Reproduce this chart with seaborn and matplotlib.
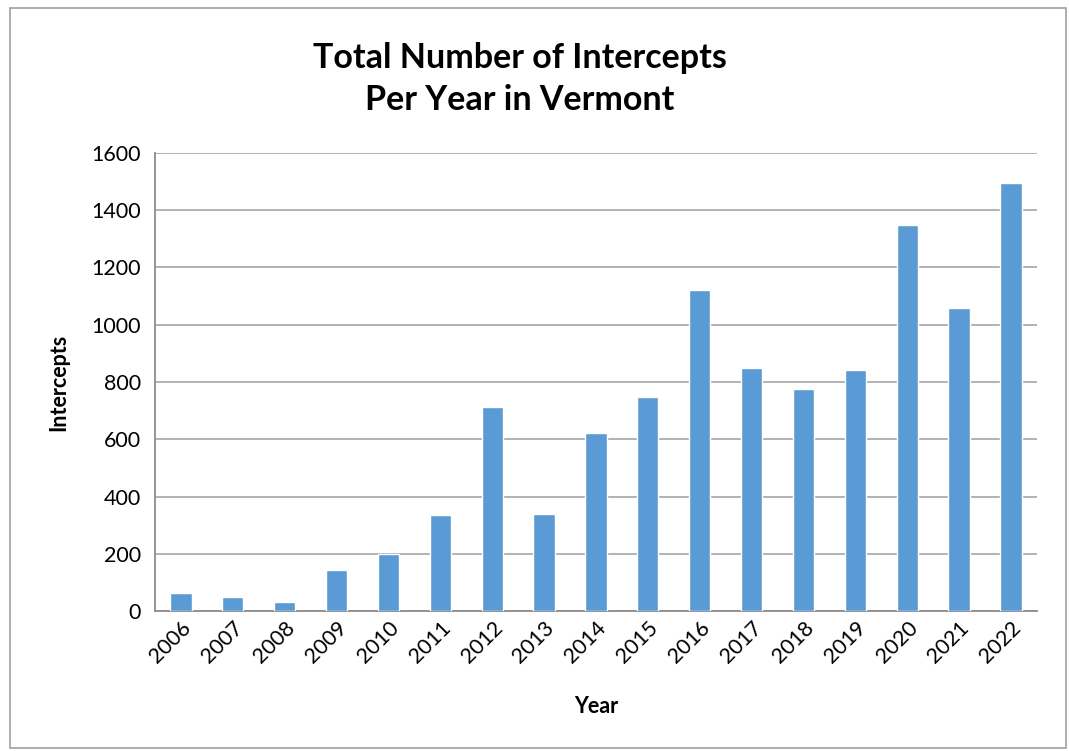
import matplotlib
matplotlib.use("Agg")
import matplotlib.pyplot as plt
import seaborn as sns
import pandas as pd
from matplotlib.patches import Rectangle

# Données
annees = [str(a) for a in range(2006, 2023)]
intercepts = [64, 49, 31, 143, 198, 335, 711, 339, 622, 746,
              1122, 850, 775, 843, 1350, 1057, 1495]
y_ticks = [0, 200, 400, 600, 800, 1000, 1200, 1400, 1600]

COULEUR_BARRE = "#5B9BD5"
COULEUR_GRILLE = "#A6A6A6"

sns.set_style("white")
plt.rcParams["font.family"] = ["Lato", "DejaVu Sans"]
plt.rcParams["text.color"] = "black"
plt.rcParams["axes.labelcolor"] = "black"
plt.rcParams["xtick.color"] = "black"
plt.rcParams["ytick.color"] = "black"

df = pd.DataFrame({"Year": annees, "Intercepts": intercepts})

fig = plt.figure(figsize=(10.69, 7.51), dpi=100)
ax = fig.add_axes([0.145, 0.1864, 0.825, 0.6099])

sns.barplot(data=df, x="Year", y="Intercepts", color=COULEUR_BARRE,
            width=0.41, saturation=1, ax=ax, zorder=3)

ax.set_ylim(0, 1600)
ax.set_yticks(y_ticks)
ax.set_xlim(-0.5, len(annees) - 0.5)
ax.yaxis.grid(True, color=COULEUR_GRILLE, linewidth=1.2, zorder=0)
ax.set_axisbelow(True)

for s in ["top", "right"]:
    ax.spines[s].set_visible(False)
for s in ["left", "bottom"]:
    ax.spines[s].set_color("#8C8C8C")
    ax.spines[s].set_linewidth(1.3)

ax.tick_params(axis="y", labelsize=15.5, length=0, pad=10)
ax.tick_params(axis="x", labelsize=15.5, length=0, pad=5)
plt.setp(ax.get_xticklabels(), rotation=45, ha="right", rotation_mode="anchor")

ax.set_xlabel("Year", fontsize=15.5, fontweight="bold", labelpad=21)
ax.set_ylabel("Intercepts", fontsize=15.5, fontweight="bold", labelpad=16)

fig.text(0.486, 0.895, "Total Number of Intercepts\nPer Year in Vermont",
         ha="center", va="center", fontsize=24.5, fontweight="bold",
         linespacing=1.4)

# cadre autour du graphique
fig.patches.append(Rectangle((0.009, 0.004), 0.988, 0.985,
                             transform=fig.transFigure, fill=False,
                             edgecolor="#A0A0A0", linewidth=1.2))

plt.savefig("out.png", dpi=100)
plt.close()
